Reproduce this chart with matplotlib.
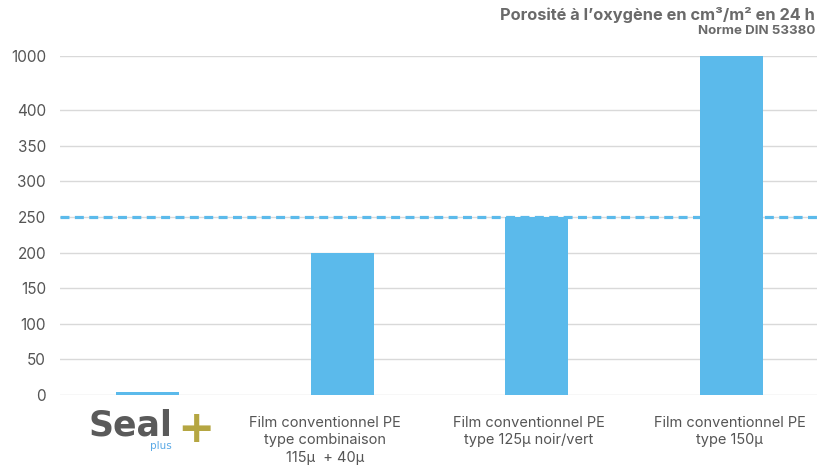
import matplotlib
matplotlib.use("Agg")
import matplotlib.pyplot as plt
import matplotlib.transforms as mtransforms
import numpy as np

plt.rcParams['font.family'] = ['Inter', 'DejaVu Sans']

categories = ["Seal plus",
              "Film conventionnel PE\ntype combinaison\n115µ  + 40µ",
              "Film conventionnel PE\ntype 125µ noir/vert",
              "Film conventionnel PE\ntype 150µ"]
values = [4, 200, 250, 1000]
threshold = 250
yticks = [0, 50, 100, 150, 200, 250, 300, 350, 400, 1000]
title_line1 = "Porosité à l’oxygène en cm³/m² en 24 h"
title_line2 = "Norme DIN 53380"

BREAK = 400.0
K = 75.8 / 600.0

def fwd(v):
    v = np.asarray(v, dtype=float)
    return np.where(v <= BREAK, v, BREAK + (v - BREAK) * K)

def inv(u):
    u = np.asarray(u, dtype=float)
    return np.where(u <= BREAK, u, BREAK + (u - BREAK) / K)

W, H = 833, 472
fig = plt.figure(figsize=(W / 100, H / 100), dpi=100)
ax = fig.add_axes([60 / W, 1 - 395 / H, (817 - 60) / W, (395 - 56) / H])
ax.set_yscale('function', functions=(fwd, inv))

bar_color = '#5BBAEB'
x = np.arange(len(categories))
ax.bar(x, values, width=0.325, color=bar_color, zorder=3)
ax.axhline(threshold, color=bar_color, lw=2.3, ls=(0, (2.8, 1.7)), zorder=2)

ax.set_xlim(-0.45, 3.44)
ax.set_ylim(0, 1000)
ax.set_yticks(yticks)
ax.set_yticklabels([str(t) for t in yticks])
ax.yaxis.set_minor_locator(matplotlib.ticker.NullLocator())
ax.grid(axis='y', color='#d9d9d9', lw=1.0, zorder=1)
ax.set_axisbelow(True)
for s in ax.spines.values():
    s.set_visible(False)
ax.tick_params(axis='y', length=0, pad=10, labelsize=11, labelcolor='#555555')
ax.set_xticks(x)
ax.set_xticklabels([])
ax.tick_params(axis='x', length=0)

trans = mtransforms.blended_transform_factory(ax.transData, fig.transFigure)

# Category labels (slightly offset as in the original layout)
label_offsets = [0.0, -0.087, -0.04, -0.01]
for xi, lab, off in zip(x[1:], categories[1:], label_offsets[1:]):
    ax.text(xi + off, 1 - 416 / H, lab, transform=trans, ha='center', va='top',
            fontsize=10.5, color='#555555', linespacing=1.3, clip_on=False)

# Logo for first category
ax.text(-0.087, 1 - 425 / H, "Seal", transform=trans, ha='center', va='center',
        fontsize=25, fontweight='heavy', color='#5a5a5a', family=['DejaVu Sans'],
        clip_on=False)
ax.text(0.067, 1 - 446 / H, "plus", transform=trans, ha='center', va='center',
        fontsize=7.5, color='#5aa9e6', family=['DejaVu Sans'], clip_on=False)
ax.text(0.25, 1 - 429 / H, "+", transform=trans, ha='center', va='center',
        fontsize=32, fontweight='heavy', color='#b5a642', family=['DejaVu Sans'],
        clip_on=False)

fig.text(815 / W, 1 - 15 / H, title_line1, ha='right', va='center',
         fontsize=11.8, fontweight='bold', color='#6a6a6a')
fig.text(815 / W, 1 - 31 / H, title_line2, ha='right', va='center',
         fontsize=9.6, fontweight='bold', color='#6a6a6a')

fig.savefig("out.png", dpi=100)
